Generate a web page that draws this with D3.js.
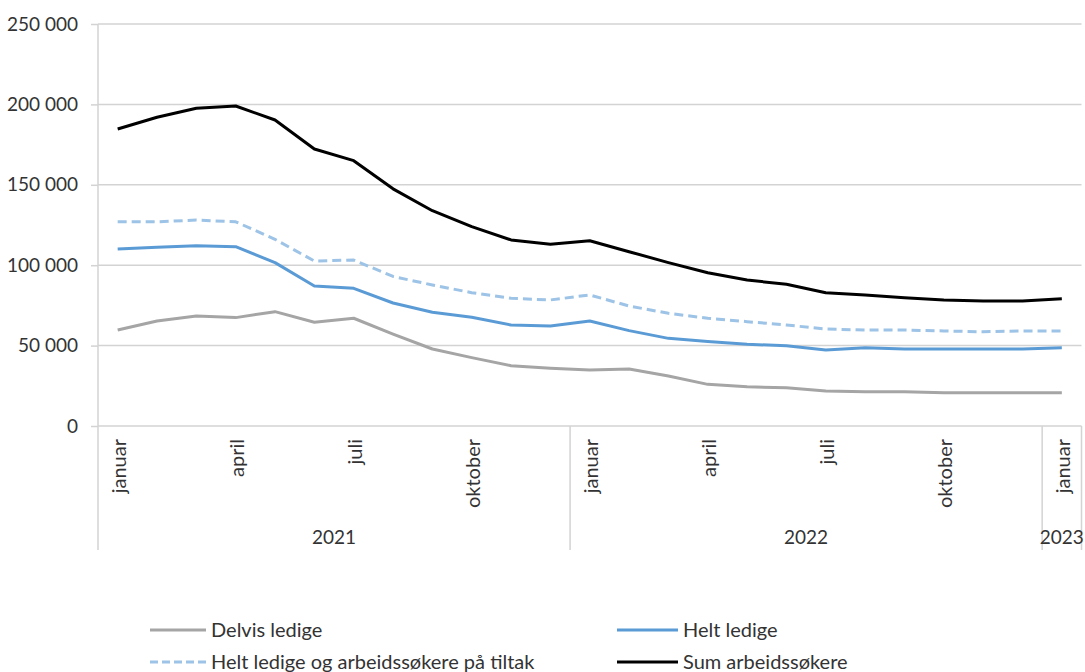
<!DOCTYPE html>
<html>
<head>
<meta charset="utf-8">
<script src="https://cdn.jsdelivr.net/npm/d3@7"></script>
<style>
  html, body { margin: 0; padding: 0; background: #fff; }
  svg { display: block; }
  text { font-family: Lato, "Open Sans", sans-serif; fill: #333; }
</style>
</head>
<body>
<svg id="chart" width="1085" height="672"></svg>
<script>
// ---- data ----
const monthLabels = ["januar","februar","mars","april","mai","juni","juli","august","september","oktober","november","desember",
                     "januar","februar","mars","april","mai","juni","juli","august","september","oktober","november","desember",
                     "januar"];
const monthYears = ["2021","2021","2021","2021","2021","2021","2021","2021","2021","2021","2021","2021",
                    "2022","2022","2022","2022","2022","2022","2022","2022","2022","2022","2022","2022",
                    "2023"];
const shownMonths = ["januar","april","juli","oktober"];
const years = ["2021","2022","2023"];
const yTicks = [0, 50000, 100000, 150000, 200000, 250000];

const delvisLedige = [59700, 65300, 68400, 67400, 71100, 64500, 67000, 57200, 47900, 42500, 37500, 35900,
                      34800, 35400, 31100, 25900, 24400, 23800, 21800, 21300, 21300, 20700, 20700, 20700,
                      20700];
const heltLedige = [110100, 111100, 112100, 111500, 101600, 87100, 85600, 76500, 70700, 67600, 62800, 62200,
                    65300, 59300, 54500, 52500, 50800, 49900, 47300, 48700, 47900, 47900, 47900, 47900,
                    48700];
const heltLedigeTiltak = [127000, 127000, 128100, 127000, 116100, 102600, 103200, 93000, 87700, 82900, 79400, 78400,
                          81500, 74600, 70100, 67000, 64900, 62800, 60300, 59700, 59700, 59100, 58600, 59100,
                          59100];
const sumArbeidssokere = [184700, 192000, 197600, 199000, 190300, 172300, 165000, 147500, 133900, 124000, 115700, 113000,
                          115200, 108400, 101600, 95300, 90800, 88100, 82900, 81500, 79800, 78400, 77700, 77700,
                          79200];

const seriesNames = ["Delvis ledige", "Helt ledige", "Helt ledige og arbeidssøkere på tiltak", "Sum arbeidssøkere"];

// ---- layout ----
const svg = d3.select("#chart");
const pLeft = 98, pRight = 1081.5, pTop = 24, pBottom = 426, axisBottom = 550;
const idx = d3.range(monthLabels.length);

const x = d3.scaleBand().domain(idx).range([pLeft, pRight]).padding(0);
const y = d3.scaleLinear().domain([0, 250000]).range([pBottom, pTop]);
const cx = i => x(i) + x.bandwidth() / 2;

const locale = d3.formatLocale({decimal: ",", thousands: "\u00a0", grouping: [3], currency: ["", " kr"]});
const fmt = locale.format(",d");

const gridColor = "#d3d3d3";

// gridlines + y labels
const yAxis = d3.axisLeft(y).tickValues(yTicks).tickSize(7).tickFormat(fmt).tickPadding(13);
const gy = svg.append("g").attr("transform", `translate(${pLeft},0)`).call(yAxis);
gy.select(".domain").remove();
gy.selectAll(".tick line").attr("stroke", gridColor).attr("stroke-width", 1.5);
gy.selectAll(".tick text").attr("font-size", 19).attr("fill", "#333").style("font-family", "Lato, sans-serif");
svg.append("g").selectAll("line").data(yTicks).join("line")
  .attr("x1", pLeft).attr("x2", pRight)
  .attr("y1", d => y(d)).attr("y2", d => y(d))
  .attr("stroke", gridColor).attr("stroke-width", 1.5);

// y axis line
svg.append("line").attr("x1", pLeft).attr("x2", pLeft).attr("y1", pTop).attr("y2", axisBottom)
  .attr("stroke", gridColor).attr("stroke-width", 1.5);

// year dividers
const yearStart = years.map(yr => monthYears.indexOf(yr));
const yearEnd = years.map(yr => monthYears.lastIndexOf(yr));
const dividers = yearStart.slice(1).map(i => x(i)).concat([pRight]);
svg.append("g").selectAll("line").data(dividers).join("line")
  .attr("x1", d => d).attr("x2", d => d).attr("y1", pBottom).attr("y2", axisBottom)
  .attr("stroke", gridColor).attr("stroke-width", 1.5);

// month labels
svg.append("g").selectAll("text").data(idx.filter(i => shownMonths.includes(monthLabels[i]) && (i % 3 === 0))).join("text")
  .attr("transform", i => `translate(${cx(i) + 1},${439}) rotate(-90)`)
  .attr("text-anchor", "end").attr("dy", "0.36em")
  .attr("font-size", 20)
  .text(i => monthLabels[i]);

// year labels
svg.append("g").selectAll("text").data(years).join("text")
  .attr("x", (yr, k) => (x(yearStart[k]) + x(yearEnd[k]) + x.bandwidth()) / 2)
  .attr("y", 537).attr("dy", "0.35em").attr("text-anchor", "middle")
  .attr("font-size", 19)
  .text(d => d);

// lines
const series = [
  {name: seriesNames[0], values: delvisLedige, color: "#a5a5a5", dash: null},
  {name: seriesNames[1], values: heltLedige, color: "#5b9bd5", dash: null},
  {name: seriesNames[2], values: heltLedigeTiltak, color: "#9dc3e6", dash: "9,5"},
  {name: seriesNames[3], values: sumArbeidssokere, color: "#000000", dash: null}
];
const line = d3.line().x((d, i) => cx(i)).y(d => y(d));
svg.append("g").selectAll("path").data(series).join("path")
  .attr("d", s => line(s.values))
  .attr("fill", "none")
  .attr("stroke", s => s.color)
  .attr("stroke-width", 3)
  .attr("stroke-dasharray", s => s.dash)
  .attr("stroke-linejoin", "round");

// legend
const legendPos = [
  {x: 150, y: 630}, {x: 617, y: 630},
  {x: 150, y: 662}, {x: 617, y: 662}
];
const lg = svg.append("g").selectAll("g").data(series).join("g")
  .attr("transform", (s, i) => `translate(${legendPos[i].x},${legendPos[i].y})`);
lg.append("line").attr("x1", 0).attr("x2", (s, i) => i % 2 === 0 ? 56 : 61).attr("y1", 0).attr("y2", 0)
  .attr("stroke", s => s.color).attr("stroke-width", 3).attr("stroke-dasharray", s => s.dash ? "8,4" : null);
lg.append("text").attr("x", (s, i) => i % 2 === 0 ? 61 : 66).attr("y", 0).attr("dy", "0.35em")
  .attr("font-size", 20).text(s => s.name);
</script>
</body>
</html>
